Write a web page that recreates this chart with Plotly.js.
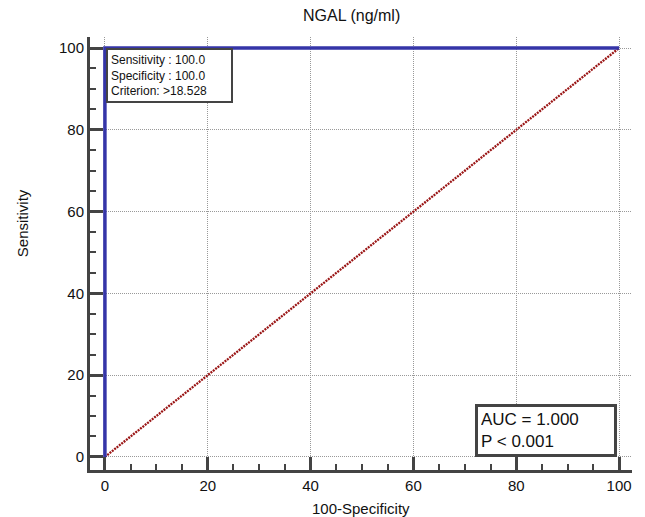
<!DOCTYPE html>
<html>
<head>
<meta charset="utf-8">
<script src="https://cdn.plot.ly/plotly-3.0.1.min.js"></script>
<style>html,body{margin:0;padding:0;background:#fff;}#chart{width:645px;height:517px;}</style>
</head>
<body>
<div id="chart"></div>
<script>
// ROC curve points (100-Specificity, Sensitivity)
const rocX = [0, 0, 100];
const rocY = [0, 100, 100];
// Reference diagonal
const diagX = [0, 100];
const diagY = [0, 100];
const tickVals = [0, 20, 40, 60, 80, 100];
const tickText = ['0', '20', '40', '60', '80', '100'];
const chartTitle = 'NGAL (ng/ml)';
const xTitle = '100-Specificity';
const yTitle = 'Sensitivity';
const infoLines = ['Sensitivity : 100.0', 'Specificity : 100.0', 'Criterion: >18.528'];
const aucLines = ['AUC = 1.000', 'P &lt; 0.001'];

const font = 'Arial, "Liberation Sans", sans-serif';

const traces = [
  {x: diagX, y: diagY, mode: 'lines', line: {color: '#9a1515', width: 2.3, dash: '2px,1px'}, hoverinfo: 'skip'},
  {x: rocX, y: rocY, mode: 'lines', line: {color: '#3535a8', width: 3.5}, hoverinfo: 'skip'}
];

const axisCommon = {
  showline: true, linecolor: '#444', linewidth: 3,
  ticks: 'inside', ticklen: 13, tickwidth: 3, tickcolor: '#444',
  tickvals: tickVals, ticktext: tickText,
  tickfont: {family: font, size: 15, color: '#111'},
  showgrid: true, gridcolor: '#999', gridwidth: 1, griddash: '1px,1px',
  zeroline: false, fixedrange: true,
  minor: {dtick: 5, ticks: 'inside', ticklen: 6, tickwidth: 2, tickcolor: '#444', showgrid: false}
};

const layout = {
  width: 645, height: 517,
  margin: {l: 90, r: 13, t: 37, b: 47},
  paper_bgcolor: '#fff', plot_bgcolor: '#fff',
  showlegend: false,
  font: {family: font, color: '#111'},
  xaxis: Object.assign({}, axisCommon, {range: [-2.9, 102.5]}),
  yaxis: Object.assign({}, axisCommon, {range: [-3.2, 102.7]}),
  annotations: [
    {xref: 'paper', yref: 'paper', x: 0.5, xshift: -10, y: 1, yshift: 22, xanchor: 'center', yanchor: 'middle',
     text: chartTitle, showarrow: false, font: {family: font, size: 16, color: '#111'}},
    {xref: 'paper', yref: 'paper', x: 0.5, y: 0, yshift: -38, xanchor: 'center', yanchor: 'middle',
     text: xTitle, showarrow: false, font: {family: font, size: 15, color: '#111'}},
    {xref: 'paper', yref: 'paper', x: 0, xshift: -68, y: 0.57, xanchor: 'center', yanchor: 'middle',
     text: yTitle, textangle: -90, showarrow: false, font: {family: font, size: 15, color: '#111'}},
    {xref: 'x', yref: 'y', x: 0.2, y: 100, xanchor: 'left', yanchor: 'top',
     text: infoLines.join('<br>'), align: 'left', showarrow: false, width: 117,
     font: {family: font, size: 12, color: '#111'}, bgcolor: '#fff', bordercolor: '#444', borderwidth: 2, borderpad: 3},
    {xref: 'x', yref: 'y', x: 99.6, y: 0, xanchor: 'right', yanchor: 'bottom',
     text: aucLines.join('<br>'), align: 'left', showarrow: false, width: 130,
     font: {family: font, size: 17, color: '#111'}, bgcolor: '#fff', bordercolor: '#444', borderwidth: 3, borderpad: 3}
  ]
};

Plotly.newPlot('chart', traces, layout, {displayModeBar: false, staticPlot: true});
</script>
</body>
</html>
